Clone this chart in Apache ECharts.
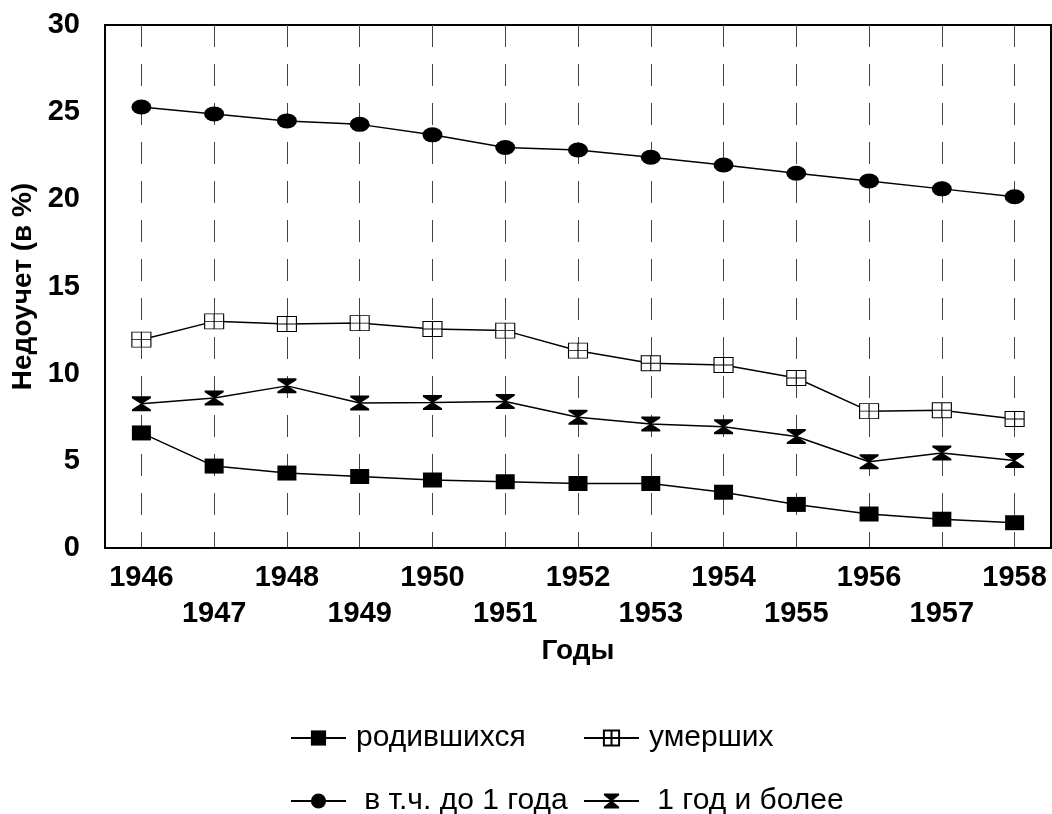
<!DOCTYPE html>
<html>
<head>
<meta charset="utf-8">
<script src="https://cdn.jsdelivr.net/npm/echarts@6/dist/echarts.min.js"></script>
<style>
html, body { margin: 0; padding: 0; background: #fff; }
#main { width: 1052px; height: 814px; }
</style>
</head>
<body>
<div id="main"></div>
<script>
// данные
var years = ['1946', '1947', '1948', '1949', '1950', '1951', '1952', '1953', '1954', '1955', '1956', '1957', '1958'];
var births = [6.6, 4.7, 4.3, 4.1, 3.9, 3.8, 3.7, 3.7, 3.2, 2.5, 1.95, 1.65, 1.45];
var deaths = [11.95, 13.0, 12.85, 12.9, 12.56, 12.47, 11.32, 10.6, 10.5, 9.75, 7.85, 7.9, 7.4];
var infant = [25.3, 24.9, 24.5, 24.3, 23.7, 22.97, 22.83, 22.41, 21.97, 21.5, 21.05, 20.6, 20.15];
var older = [8.27, 8.6, 9.3, 8.32, 8.34, 8.4, 7.5, 7.11, 6.96, 6.4, 4.95, 5.45, 5.02];
var names = ['родившихся', 'умерших', 'в т.ч. до 1 года', '1 год и более'];

var FONT = '"Liberation Sans", Arial, sans-serif';
var crossRect = 'path://M0,0H10V10H0Z M5,0V10 M0,5H10';
var hourglass = 'path://M0,0H10V1.2L5.4,5L10,8.8V10H0V8.8L4.6,5L0,1.2Z';

var dom = document.getElementById('main');
var myChart = echarts.init(dom, null, { renderer: 'canvas' });

function lineSeries(name, data, symbol, size, fill) {
    return {
        name: name,
        type: 'line',
        data: data,
        symbol: symbol,
        symbolSize: size,
        showAllSymbol: true,
        lineStyle: { color: '#000', width: 1.5 },
        itemStyle: { color: fill, borderColor: '#000', borderWidth: fill === '#fff' ? 1 : 0 },
        emphasis: { disabled: true },
        animation: false,
        z: 3
    };
}

// легенда: сетка 2 x 2
function legendItem(name, left, top, prefix) {
    return {
        data: [name],
        left: left, top: top,
        padding: 0,
        itemWidth: 55, itemHeight: 19,
        formatter: function (n) { return prefix + n; },
        textStyle: { fontFamily: FONT, fontSize: 30, color: '#000', padding: [0, 0, 0, 5] }
    };
}

var option = {
    backgroundColor: '#fff',
    grid: {
        left: 105, right: 1, top: 25, bottom: 266,
        show: true, borderColor: '#000', borderWidth: 2
    },
    legend: [
        legendItem(names[0], 290, 723, ''),
        legendItem(names[1], 583, 723, ''),
        legendItem(names[2], 290, 786, ' '),
        legendItem(names[3], 583, 786, ' ')
    ],
    xAxis: {
        type: 'category',
        data: years,
        boundaryGap: true,
        name: 'Годы',
        nameLocation: 'middle',
        nameGap: 86,
        nameTextStyle: { fontFamily: FONT, fontSize: 28, fontWeight: 'bold', color: '#000' },
        axisLine: { lineStyle: { color: '#000', width: 2 } },
        axisTick: { alignWithLabel: true, length: 10, lineStyle: { color: '#000', width: 1.5 } },
        axisLabel: {
            interval: 0,
            margin: 12,
            fontFamily: FONT, fontSize: 29, fontWeight: 'bold', color: '#000',
            lineHeight: 36,
            formatter: function (v, i) { return i % 2 ? '\n' + v : v; }
        },
        splitLine: {
            show: true,
            interval: 0,
            alignWithLabel: true,
            lineStyle: { color: '#444', width: 1, type: [22, 17] }
        }
    },
    yAxis: {
        type: 'value',
        min: 0, max: 30, interval: 5,
        name: 'Недоучет (в %)',
        nameLocation: 'middle',
        nameGap: 60,
        nameTextStyle: { fontFamily: FONT, fontSize: 28, fontWeight: 'bold', color: '#000' },
        axisLine: { show: true, lineStyle: { color: '#000', width: 2 } },
        axisTick: { show: false },
        splitLine: { show: false },
        axisLabel: { margin: 25, fontFamily: FONT, fontSize: 29, fontWeight: 'bold', color: '#000' }
    },
    series: [
        lineSeries(names[0], births, 'rect', [19, 15], '#000'),
        lineSeries(names[1], deaths, crossRect, [19, 15], '#fff'),
        lineSeries(names[2], infant, 'circle', [20, 15], '#000'),
        lineSeries(names[3], older, hourglass, [19, 15], '#000')
    ]
};

myChart.setOption(option);
window.addEventListener('resize', myChart.resize);
</script>
</body>
</html>
